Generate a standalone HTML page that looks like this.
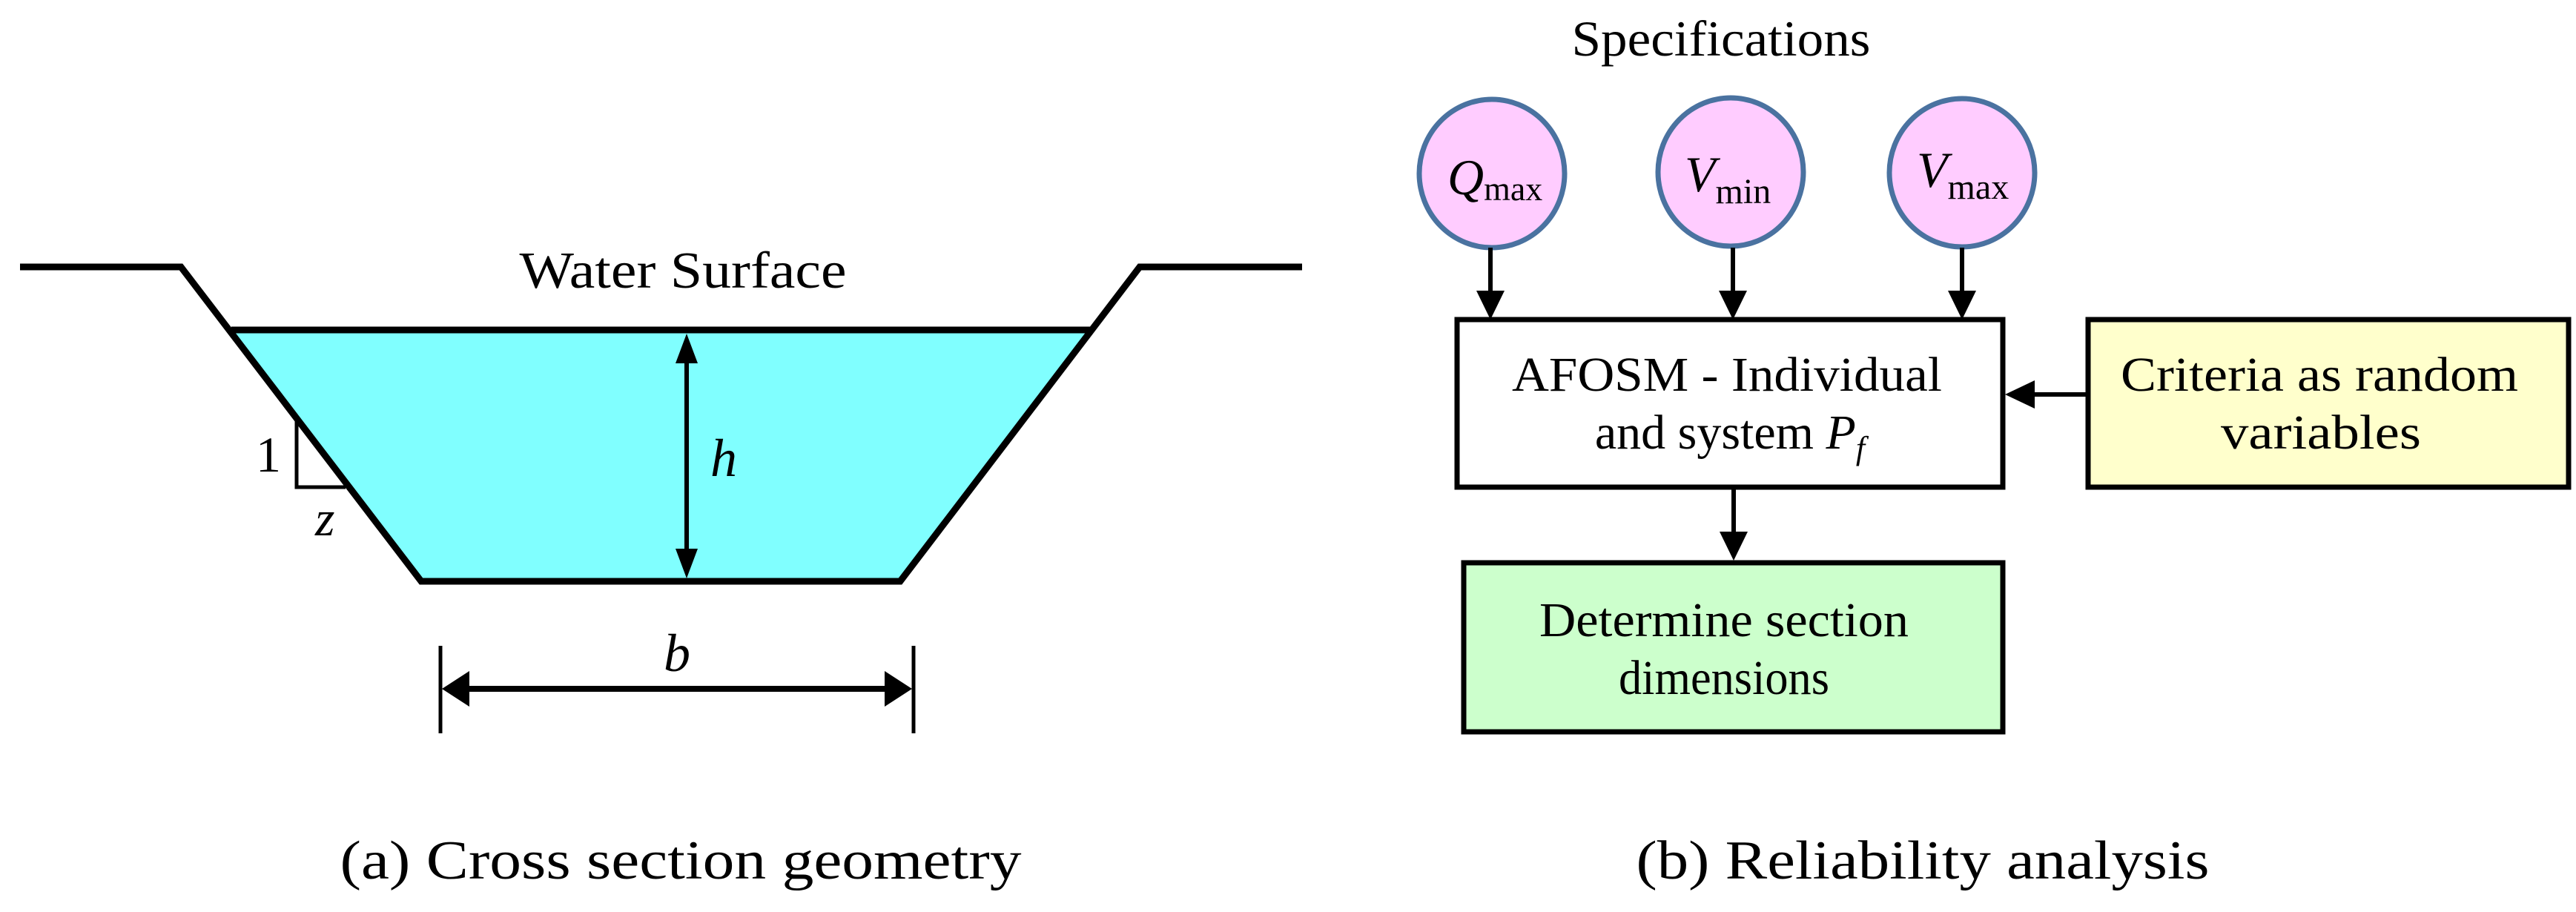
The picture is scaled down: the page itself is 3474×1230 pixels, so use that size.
<!DOCTYPE html>
<html><head><meta charset="utf-8"><style>html,body{margin:0;padding:0;background:#fff}svg{display:block}</style></head>
<body>
<svg width="3474" height="1230" viewBox="0 0 3474 1230" xmlns="http://www.w3.org/2000/svg" font-family="'Liberation Serif', serif">
<!-- (a) cross section -->
<polygon points="312,445 1470,445 1214,784 568,784" fill="#80ffff"/>
<polyline points="27,360 244,360 568,784 1214,784 1537,360 1756,360" fill="none" stroke="#000" stroke-width="9" stroke-linejoin="miter"/>
<line x1="312" y1="445" x2="1470" y2="445" stroke="#000" stroke-width="9"/>
<!-- h arrow -->
<line x1="926" y1="480" x2="926" y2="750" stroke="#000" stroke-width="6"/>
<polygon points="926,450 911,490 941,490" fill="#000"/>
<polygon points="926,780 911,740 941,740" fill="#000"/>
<text x="958" y="642" font-size="72" font-style="italic">h</text>
<!-- slope triangle -->
<polyline points="400,568 400,657 466,657" fill="none" stroke="#000" stroke-width="5"/>
<text x="345" y="636" font-size="68">1</text>
<text x="425" y="722" font-size="68" font-style="italic">z</text>
<!-- b dimension -->
<line x1="594" y1="871" x2="594" y2="989" stroke="#000" stroke-width="5"/>
<line x1="1232" y1="871" x2="1232" y2="989" stroke="#000" stroke-width="5"/>
<line x1="625" y1="929" x2="1200" y2="929" stroke="#000" stroke-width="8"/>
<polygon points="596,929 633,905 633,953" fill="#000"/>
<polygon points="1230,929 1193,905 1193,953" fill="#000"/>
<text x="913" y="905" font-size="72" font-style="italic" text-anchor="middle">b</text>
<text x="921" y="388" font-size="70" text-anchor="middle" textLength="441" lengthAdjust="spacingAndGlyphs">Water Surface</text>
<text x="918" y="1185" font-size="74" text-anchor="middle" textLength="919" lengthAdjust="spacingAndGlyphs">(a) Cross section geometry</text>
<text x="2593" y="1185" font-size="74" text-anchor="middle" textLength="773" lengthAdjust="spacingAndGlyphs">(b) Reliability analysis</text>
<!-- (b) -->
<text x="2321" y="75" font-size="68" text-anchor="middle" textLength="403" lengthAdjust="spacingAndGlyphs">Specifications</text>
<g fill="#ffccff" stroke="#4a72a0" stroke-width="7">
<ellipse cx="2012" cy="234" rx="98" ry="100"/>
<ellipse cx="2334" cy="232" rx="98" ry="100"/>
<ellipse cx="2646" cy="233" rx="98" ry="100"/>
</g>
<g font-size="68">
<text x="1952" y="262"><tspan font-style="italic">Q</tspan><tspan font-size="46" dy="8">max</tspan></text>
<text x="2272" y="258"><tspan font-style="italic">V</tspan><tspan font-size="48" dy="16">min</tspan></text>
<text x="2585" y="252"><tspan font-style="italic">V</tspan><tspan font-size="48" dy="16">max</tspan></text>
</g>
<g stroke="#000" stroke-width="6">
<line x1="2010" y1="334" x2="2010" y2="400"/>
<line x1="2337" y1="334" x2="2337" y2="400"/>
<line x1="2646" y1="334" x2="2646" y2="400"/>
<line x1="2338" y1="657" x2="2338" y2="725"/>
<line x1="2816" y1="532" x2="2740" y2="532"/>
</g>
<g fill="#000">
<polygon points="2010,431 1991,392 2029,392"/>
<polygon points="2337,431 2318,392 2356,392"/>
<polygon points="2646,431 2627,392 2665,392"/>
<polygon points="2338,756 2319,717 2357,717"/>
<polygon points="2704,532 2744,513 2744,551"/>
</g>
<rect x="1965" y="431" width="736" height="226" fill="#fff" stroke="#000" stroke-width="7"/>
<rect x="2816" y="431" width="648" height="226" fill="#ffffcc" stroke="#000" stroke-width="7"/>
<rect x="1974" y="759" width="727" height="228" fill="#ccffcc" stroke="#000" stroke-width="7"/>
<g font-size="66" text-anchor="middle">
<text x="2329" y="527" textLength="580" lengthAdjust="spacingAndGlyphs">AFOSM - Individual</text>
<text x="2333" y="605">and system <tspan font-style="italic">P</tspan><tspan font-style="italic" font-size="44" dy="14">f</tspan></text>
<text x="3128" y="527" textLength="536" lengthAdjust="spacingAndGlyphs">Criteria as random</text>
<text x="3130" y="605" textLength="270" lengthAdjust="spacingAndGlyphs">variables</text>
<text x="2325" y="858" textLength="498" lengthAdjust="spacingAndGlyphs">Determine section</text>
<text x="2325" y="936" textLength="284" lengthAdjust="spacingAndGlyphs">dimensions</text>
</g>
</svg>
</body></html>
